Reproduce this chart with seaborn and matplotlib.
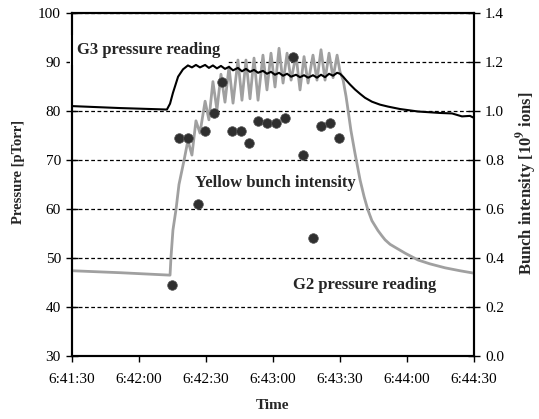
import matplotlib
matplotlib.use('Agg')
import matplotlib.pyplot as plt
import seaborn as sns
import pandas as pd

# time in seconds after 6:41:30
g3_time = [0, 21.5, 42.5, 43.9, 45.2, 47.5, 49.7, 51.9, 53.7, 55.5, 57.3, 59.6, 61.3,
           63.1, 64.9, 66.7, 68.5, 70.3, 72.1, 74.3, 76.1, 77.9, 79.7, 81.5, 83.3,
           85.5, 87.3, 89.1, 90.9, 92.7, 94.5, 96.3, 98.1, 100.3, 102.1, 103.9, 105.7,
           107.9, 109.7, 111.5, 113.3, 115.1, 116.9, 118.7, 120.0, 121.4, 122.7, 124.5,
           126.7, 129.0, 131.2, 134.3, 137.9, 141.5, 146.9, 154.9, 164.8, 170.2, 174.6,
           178.2, 180.0]
g3_pressure = [81.0, 80.6, 80.3, 81.5, 83.7, 87.0, 88.5, 89.3, 88.9, 89.4, 88.9, 89.4, 88.8,
               89.3, 88.7, 89.2, 88.6, 89.0, 88.3, 88.8, 88.1, 88.6, 88.0, 88.4, 87.8,
               88.2, 87.6, 88.0, 87.4, 87.8, 87.2, 87.6, 87.0, 87.4, 86.9, 87.3, 86.8,
               87.3, 86.8, 87.4, 86.9, 87.6, 87.2, 87.8, 87.6, 87.0, 86.3, 85.4,
               84.4, 83.5, 82.7, 81.9, 81.3, 80.9, 80.4, 79.9, 79.6, 79.5, 78.9,
               79.0, 78.6]

g2_time = [0, 21.5, 43.9, 44.3, 45.2, 46.6, 47.9, 50.2, 51.9, 53.7, 55.5, 57.3, 59.6,
           61.3, 63.1, 64.9, 66.7, 68.5, 70.3, 72.1, 74.3, 76.1, 77.9, 79.7, 81.5, 83.3,
           85.5, 87.3, 89.1, 90.9, 92.7, 94.5, 96.3, 98.1, 100.3, 102.1, 103.9, 105.7,
           107.9, 109.7, 111.5, 113.3, 115.1, 116.9, 118.7, 120.0, 121.4, 122.7, 123.6,
           124.9, 126.7, 129.0, 130.8, 132.5, 134.3, 137.0, 138.8, 140.2, 142.4, 144.6,
           149.1, 154.9, 160.3, 167.0, 173.7, 180.0]
g2_pressure = [47.4, 47.0, 46.5, 50.0, 55.7, 60.0, 65.0, 70.0, 74.0, 71.0, 78.0, 75.5, 82.0,
               78.2, 86.0, 80.2, 87.5, 81.8, 89.0, 81.6, 90.4, 82.2, 90.4, 82.5, 90.8, 82.2,
               91.4, 84.3, 91.8, 84.9, 92.8, 85.7, 91.8, 86.3, 91.4, 84.3, 91.1, 85.7,
               91.4, 86.3, 92.5, 86.3, 91.8, 86.8, 91.4, 88.0, 86.3, 83.0, 80.2,
               76.0, 71.4, 65.9, 62.5, 59.8, 57.6, 55.6, 54.5, 53.7, 52.8, 52.2,
               51.0, 49.6, 48.8, 48.0, 47.4, 46.9]

bunch_time = [44.6, 48.0, 52.1, 56.4, 59.6, 63.6, 67.3, 71.5, 75.5, 79.4,
              83.4, 87.5, 91.4, 95.4, 99.1, 103.6, 107.9, 111.4, 115.5, 119.6]
bunch_intensity = [0.29, 0.89, 0.89, 0.62, 0.92, 0.99, 1.12, 0.92, 0.92, 0.87,
                   0.96, 0.95, 0.95, 0.97, 1.22, 0.82, 0.48, 0.94, 0.95, 0.89]

time_ticks = [0, 30, 60, 90, 120, 150, 180]
time_labels = ['6:41:30', '6:42:00', '6:42:30', '6:43:00', '6:43:30', '6:44:00', '6:44:30']
pressure_ticks = [30, 40, 50, 60, 70, 80, 90, 100]
bunch_ticks = [0.0, 0.2, 0.4, 0.6, 0.8, 1.0, 1.2, 1.4]

g3 = pd.DataFrame({'t': g3_time, 'p': g3_pressure})
g2 = pd.DataFrame({'t': g2_time, 'p': g2_pressure})
bunch = pd.DataFrame({'t': bunch_time, 'b': bunch_intensity})

sns.set_style('ticks')
plt.rcParams['font.family'] = ['Liberation Serif', 'DejaVu Serif']
plt.rcParams['mathtext.fontset'] = 'stix'

fig = plt.figure(figsize=(5.39, 4.19), dpi=100)
ax = fig.add_axes([72 / 539, 1 - 356 / 419, (474 - 72) / 539, (356 - 13) / 419])

sns.lineplot(data=g2, x='t', y='p', ax=ax, color='#a0a0a0', lw=2.0, zorder=4, sort=False)
sns.lineplot(data=g3, x='t', y='p', ax=ax, color='black', lw=1.5, zorder=5, sort=False)

ax.set_xlim(0, 180)
ax.set_ylim(30, 100)
ax.set_xticks(time_ticks)
ax.set_xticklabels(time_labels)
ax.set_yticks(pressure_ticks)
ax.grid(axis='y', color='black', linestyle=(0, (3, 2)), lw=0.9, zorder=1)
ax.grid(axis='x', visible=False)
ax.set_axisbelow(True)

ax2 = ax.twinx()
sns.scatterplot(data=bunch, x='t', y='b', ax=ax2, color='#2f2f2f', s=48,
                edgecolor='#555555', linewidth=0.5, zorder=6)
ax2.set_ylim(0, 1.4)
ax2.set_yticks(bunch_ticks)
ax2.set_yticklabels([f'{v:.1f}' for v in bunch_ticks])
ax2.grid(False)

for a in (ax, ax2):
    for s in a.spines.values():
        s.set_color('black')
        s.set_linewidth(1.5)
        s.set_visible(True)

ax.tick_params(axis='y', direction='inout', length=8, width=1, labelsize=11,
               colors='black', pad=4)
ax.tick_params(axis='x', direction='out', length=4, width=1, labelsize=11,
               colors='black', pad=8)
ax2.tick_params(axis='y', direction='inout', length=8, width=1, labelsize=11,
                colors='black', pad=4)

ax.set_xlabel('Time', fontweight='bold', fontsize=11, va='center')
ax.xaxis.set_label_coords(0.5, -0.143)
ax.set_ylabel('Pressure [pTorr]', fontweight='bold', fontsize=10.5, va='center')
ax.yaxis.set_label_coords(-0.132, 0.536)
ax2.set_ylabel(r'Bunch intensity [10$^{\mathbf{9}}$ ions]', fontweight='bold',
               fontsize=12, va='center')
ax2.yaxis.set_label_coords(1.132, 0.504)

ax.text(2.2, 92.4, 'G3 pressure reading', fontweight='bold', fontsize=12,
        ha='left', va='center', zorder=3,
        bbox=dict(facecolor='white', edgecolor='none', pad=5))
ax.text(55.1, 65.3, 'Yellow bunch intensity', fontweight='bold', fontsize=12,
        ha='left', va='center', zorder=3)
ax.text(99.0, 44.5, 'G2 pressure reading', fontweight='bold', fontsize=12,
        ha='left', va='center', zorder=3)

fig.savefig('out.png', dpi=100)
